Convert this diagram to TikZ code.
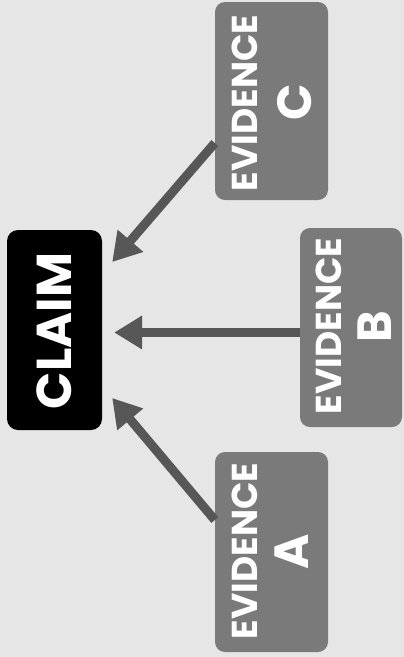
\documentclass[tikz,border=0pt]{standalone}
\usepackage{fontspec}
\setmainfont{Poppins}
\usetikzlibrary{arrows.meta}
\definecolor{bg}{HTML}{E6E6E6}
\definecolor{evgray}{HTML}{7A7A7A}
\definecolor{arrowgray}{HTML}{575757}
\begin{document}
\begin{tikzpicture}[x=1pt,y=-1pt,
  claimbox/.style={fill=black, rounded corners=11pt, minimum width=95pt, minimum height=200pt, inner sep=0pt},
  evbox/.style={fill=evgray, rounded corners=10pt, inner sep=0pt},
  claimword/.style={text=white, rotate=90, inner sep=0pt, font=\fontsize{49}{49}\selectfont\bfseries},
  evword/.style={text=white, rotate=90, inner sep=0pt, font=\fontsize{36}{36}\selectfont\bfseries},
  evletter/.style={text=white, rotate=90, inner sep=0pt, font=\fontsize{48}{48}\selectfont\bfseries},
  link/.style={draw=arrowgray, line width=9pt, -{Triangle[width=32pt,length=28pt]}}]
\fill[bg] (0,0) rectangle (404,657);
\useasboundingbox (0,0) rectangle (404,657);

\node[claimbox] (claim) at (54.5,330) {};
\node[claimword] (claimtxt) at (54,331) {CLAIM};

\node[evbox, minimum width=113pt, minimum height=200pt] (A) at (271.5,552) {};
\node[evword] (Aword) at (245,551) {EVIDENCE};
\node[evletter] (Aletter) at (292,552) {A};

\node[evbox, minimum width=102pt, minimum height=199pt] (B) at (351,327.5) {};
\node[evword] (Bword) at (329,326) {EVIDENCE};
\node[evletter] (Bletter) at (375,327) {B};

\node[evbox, minimum width=113pt, minimum height=198pt] (C) at (271.5,101) {};
\node[evword] (Cword) at (245,103) {EVIDENCE};
\node[evletter] (Cletter) at (295,102) {C};

\draw[link] ([yshift=32pt]A.west) -- ([xshift=10pt,yshift=-68pt]claim.east);
\draw[link] ([yshift=-5pt]B.west) -- ([xshift=12pt,yshift=-2.5pt]claim.east);
\draw[link] ([yshift=-42pt]C.west) -- ([xshift=10pt,yshift=68pt]claim.east);
\end{tikzpicture}
\end{document}
